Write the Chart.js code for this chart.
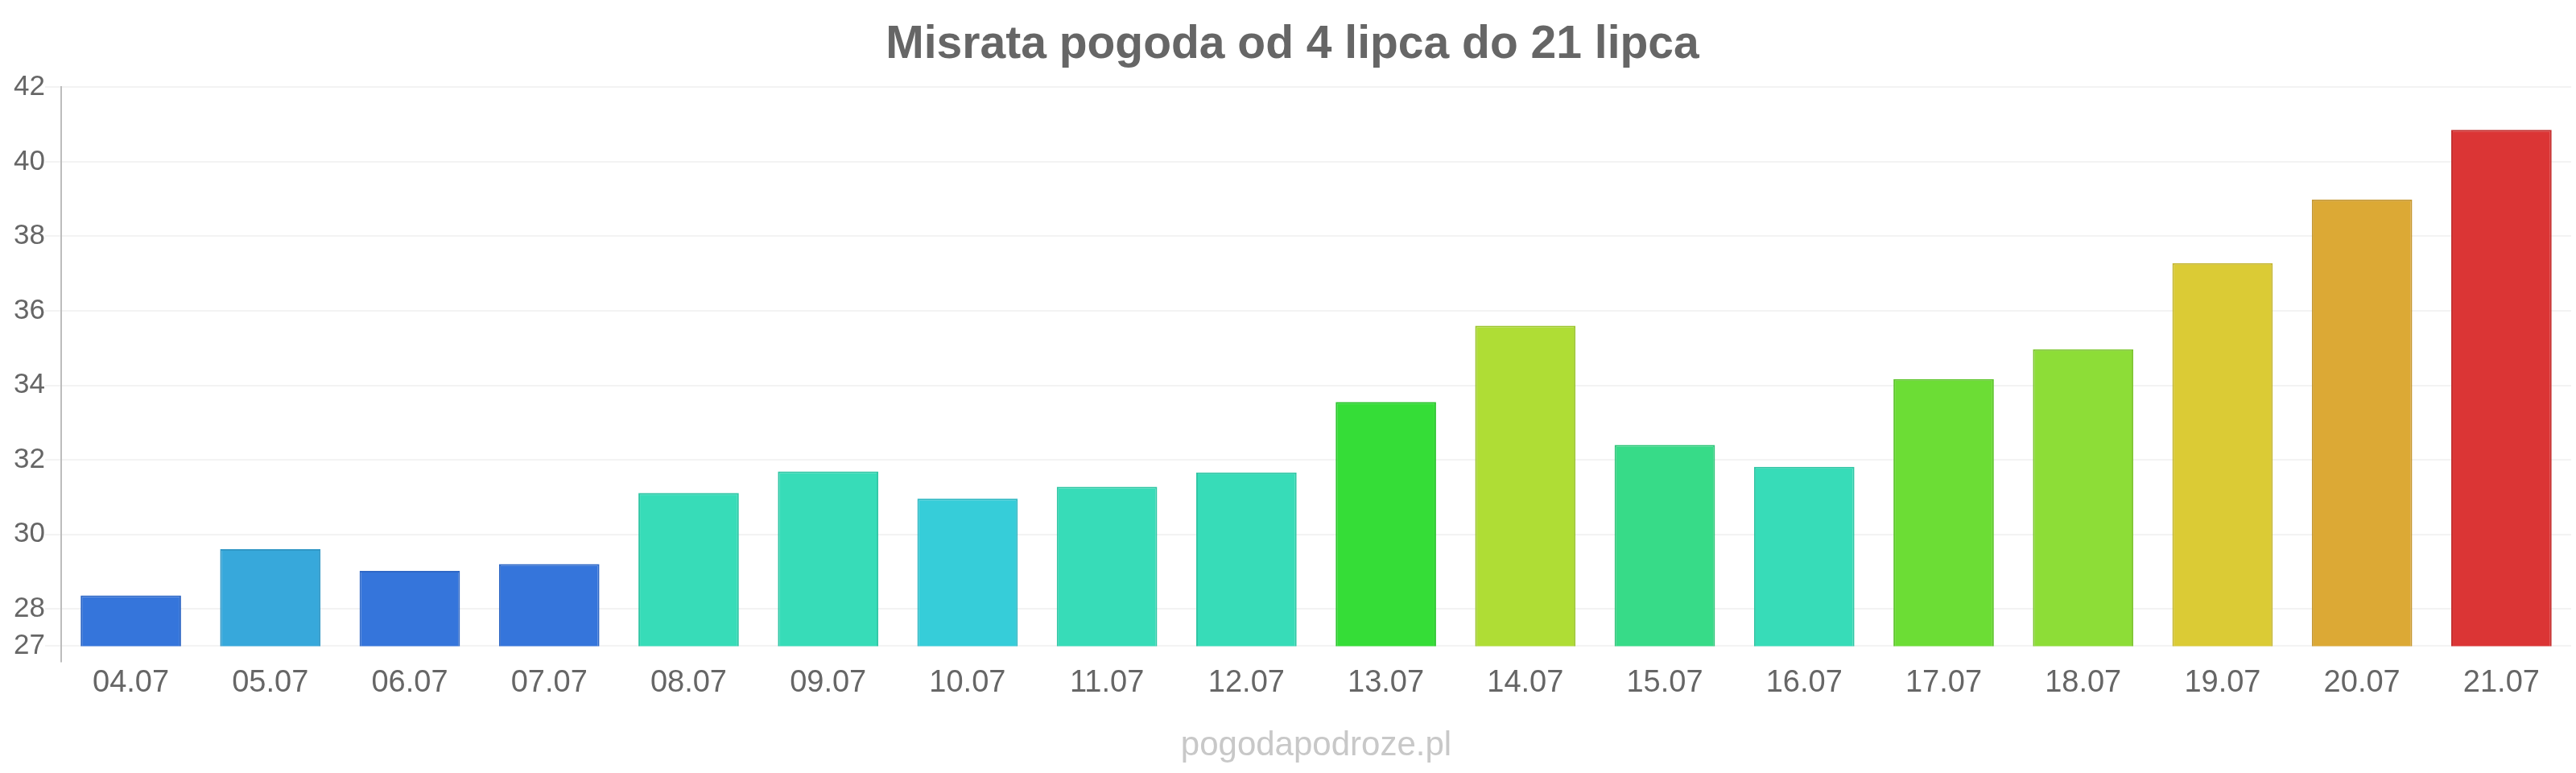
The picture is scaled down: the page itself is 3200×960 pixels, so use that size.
<!DOCTYPE html>
<html lang="pl">
<head>
<meta charset="utf-8">
<title>Misrata pogoda</title>
<script src="https://cdn.jsdelivr.net/npm/chart.js@4.4.6/dist/chart.umd.min.js"></script>
<style>
    html, body { margin: 0; padding: 0; background: #ffffff; }
    #wrap { width: 3200px; height: 960px; }
</style>
</head>
<body>
<div id="wrap"><canvas id="grafica" width="3200" height="960"></canvas></div>
<script>
const dni = ["04.07", "05.07", "06.07", "07.07", "08.07", "09.07", "10.07", "11.07", "12.07",
    "13.07", "14.07", "15.07", "16.07", "17.07", "18.07", "19.07", "20.07", "21.07"];

const temperatury = [28.36, 29.6, 29.02, 29.2, 31.11, 31.69, 30.96, 31.28, 31.66,
    33.55, 35.6, 32.4, 31.81, 34.17, 34.97, 37.28, 38.99, 40.86];

const kolory = ["#3575db", "#37a8db", "#3575db", "#3575db", "#37dcb8", "#37dcb8", "#36cdd9", "#37dcb8", "#37dcb8",
    "#35dd37", "#afdd35", "#37db88", "#37dcb8", "#6cdd35", "#8ddd37", "#dbcb35", "#dca935", "#db3535"];

const obramowania = ["#2f68c6", "#3097c6", "#2f68c6", "#2f68c6", "#30c6a5", "#30c6a5", "#30b8c3", "#30c6a5", "#30c6a5",
    "#2fc631", "#9dc62f", "#30c57a", "#30c6a5", "#60c62f", "#7ec630", "#c5b62f", "#c6972f", "#c52f2f"];

const yTicks = [27, 28, 30, 32, 34, 36, 38, 40, 42];

const tytul = "Misrata pogoda od 4 lipca do 21 lipca";
const znakWodny = "pogodapodroze.pl";

const fontRodzina = "'Liberation Sans', Arial, sans-serif";

// napis pogodapodroze.pl pod wykresem
const znakWodnyPlugin = {
    id: 'znakWodny',
    afterDraw(chart) {
        const ctx = chart.ctx;
        const area = chart.chartArea;
        ctx.save();
        ctx.font = "42px " + fontRodzina;
        ctx.fillStyle = "#c8c8c8";
        ctx.textAlign = "center";
        ctx.textBaseline = "middle";
        ctx.fillText(znakWodny, (area.left + area.right) / 2, 926);
        ctx.restore();
    }
};

document.addEventListener('DOMContentLoaded', function () {
    const ctx = document.getElementById('grafica').getContext('2d');
    new Chart(ctx, {
        type: 'bar',
        data: {
            labels: dni,
            datasets: [{
                label: 'Temperatura',
                data: temperatury,
                backgroundColor: kolory,
                borderColor: obramowania,
                borderWidth: 2,
                categoryPercentage: 0.8,
                barPercentage: 0.9
            }]
        },
        plugins: [znakWodnyPlugin],
        options: {
            responsive: false,
            animation: false,
            layout: {
                padding: { left: 17, right: 6, top: 0, bottom: 86 }
            },
            plugins: {
                legend: { display: false },
                tooltip: { enabled: false },
                title: {
                    display: true,
                    text: tytul,
                    color: '#666666',
                    font: { family: fontRodzina, size: 57, weight: 'bold' },
                    padding: { top: 22, bottom: 18 }
                }
            },
            scales: {
                x: {
                    border: { display: false },
                    grid: {
                        drawOnChartArea: false,
                        tickLength: 20,
                        lineWidth: 2,
                        color: (c) => c.index === 0 ? '#bdbdbd' : 'rgba(0,0,0,0)'
                    },
                    ticks: {
                        color: '#666666',
                        padding: 3,
                        maxRotation: 0,
                        font: { family: fontRodzina, size: 38 }
                    }
                },
                y: {
                    min: 27,
                    max: 42,
                    border: { display: true, color: '#bdbdbd', width: 2 },
                    grid: {
                        color: '#f3f3f3',
                        lineWidth: 2,
                        tickLength: 20
                    },
                    afterBuildTicks: (scale) => {
                        scale.ticks = yTicks.map(v => ({ value: v }));
                    },
                    ticks: {
                        color: '#666666',
                        padding: 0,
                        font: { family: fontRodzina, size: 35 }
                    }
                }
            }
        }
    });
});
</script>
</body>
</html>
